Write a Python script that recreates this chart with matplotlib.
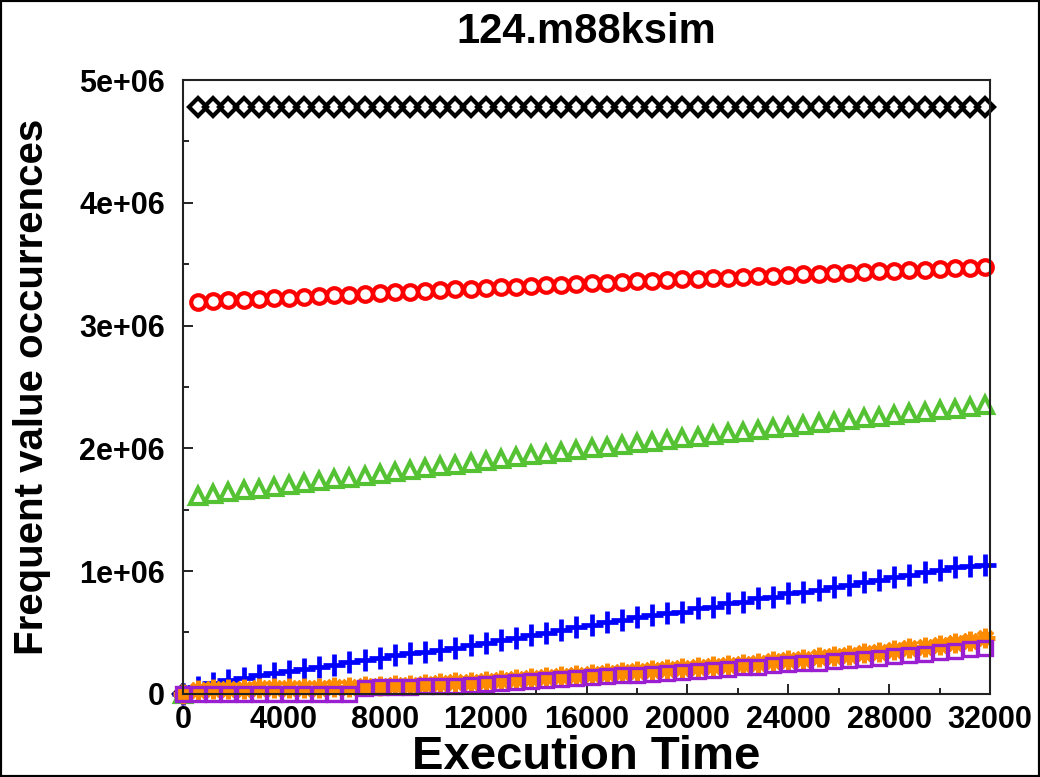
import matplotlib
matplotlib.use("Agg")
import matplotlib.pyplot as plt
import numpy as np
from matplotlib.ticker import MultipleLocator, FuncFormatter
from matplotlib.patches import Rectangle

# sample times (one sample every 600 time units)
time = [0, 600, 1200, 1800, 2400, 3000, 3600, 4200, 4800, 5400,
        6000, 6600, 7200, 7800, 8400, 9000, 9600, 10200, 10800, 11400,
        12000, 12600, 13200, 13800, 14400, 15000, 15600, 16200, 16800, 17400,
        18000, 18600, 19200, 19800, 20400, 21000, 21600, 22200, 22800, 23400,
        24000, 24600, 25200, 25800, 26400, 27000, 27600, 28200, 28800, 29400,
        30000, 30600, 31200, 31800]

# occurrences, in millions
black = [0.0,
         4.78, 4.78, 4.78, 4.78, 4.78, 4.78, 4.78, 4.78, 4.78, 4.78,
         4.78, 4.78, 4.78, 4.78, 4.78, 4.78, 4.78, 4.78, 4.78, 4.78,
         4.78, 4.78, 4.78, 4.78, 4.78, 4.78, 4.78, 4.78, 4.78, 4.78,
         4.78, 4.78, 4.78, 4.78, 4.78, 4.78, 4.78, 4.78, 4.78, 4.78,
         4.78, 4.78, 4.78, 4.78, 4.78, 4.78, 4.78, 4.78, 4.78, 4.78,
         4.78, 4.78, 4.78]
red = [0.0,
       3.195, 3.200, 3.205, 3.210, 3.216, 3.222, 3.228, 3.234, 3.240, 3.246,
       3.252, 3.258, 3.264, 3.270, 3.276, 3.282, 3.288, 3.294, 3.300, 3.305,
       3.311, 3.317, 3.323, 3.328, 3.334, 3.340, 3.345, 3.350, 3.356, 3.361,
       3.366, 3.371, 3.376, 3.381, 3.386, 3.391, 3.396, 3.401, 3.406, 3.411,
       3.416, 3.421, 3.426, 3.431, 3.436, 3.441, 3.446, 3.451, 3.456, 3.461,
       3.466, 3.470, 3.474]
green = [0.0,
         1.612, 1.627, 1.642, 1.657, 1.672, 1.687, 1.702, 1.717, 1.732, 1.747,
         1.762, 1.777, 1.792, 1.807, 1.822, 1.837, 1.852, 1.867, 1.882, 1.897,
         1.912, 1.927, 1.942, 1.957, 1.972, 1.987, 2.000, 2.014, 2.027, 2.041,
         2.054, 2.068, 2.081, 2.095, 2.108, 2.122, 2.135, 2.149, 2.162, 2.176,
         2.189, 2.203, 2.216, 2.230, 2.243, 2.257, 2.270, 2.284, 2.297, 2.311,
         2.324, 2.338, 2.351]
blue = [0.0,
        0.057, 0.090, 0.110, 0.130, 0.155, 0.170, 0.185, 0.200, 0.220, 0.235,
        0.258, 0.275, 0.290, 0.315, 0.332, 0.345, 0.358, 0.375, 0.398, 0.415,
        0.440, 0.456, 0.480, 0.497, 0.520, 0.545, 0.562, 0.586, 0.603, 0.627,
        0.643, 0.660, 0.668, 0.700, 0.708, 0.741, 0.749, 0.780, 0.790, 0.822,
        0.830, 0.847, 0.871, 0.888, 0.912, 0.928, 0.953, 0.969, 0.993, 1.010,
        1.030, 1.040, 1.050]
orange = [0.0,
          0.035, 0.040, 0.040, 0.042, 0.045, 0.045, 0.048, 0.050, 0.050, 0.052,
          0.055, 0.060, 0.065, 0.070, 0.075, 0.080, 0.090, 0.095, 0.100, 0.108,
          0.115, 0.122, 0.130, 0.138, 0.145, 0.152, 0.160, 0.168, 0.176, 0.184,
          0.192, 0.200, 0.208, 0.216, 0.225, 0.235, 0.245, 0.255, 0.265, 0.275,
          0.285, 0.300, 0.310, 0.320, 0.332, 0.345, 0.360, 0.372, 0.385, 0.400,
          0.415, 0.430, 0.455]
purple = [0.0,
          0.0, 0.0, 0.0, 0.0, 0.0, 0.0, 0.0, 0.0, 0.0, 0.0,
          0.0, 0.050, 0.052, 0.055, 0.058, 0.060, 0.062, 0.068, 0.075, 0.082,
          0.090, 0.097, 0.105, 0.110, 0.120, 0.127, 0.135, 0.142, 0.150, 0.157,
          0.165, 0.172, 0.180, 0.187, 0.195, 0.205, 0.215, 0.222, 0.232, 0.240,
          0.250, 0.255, 0.265, 0.275, 0.285, 0.295, 0.305, 0.315, 0.325, 0.338,
          0.350, 0.362, 0.375]

plt.rcParams["font.family"] = ["Liberation Sans", "DejaVu Sans"]
plt.rcParams["font.weight"] = "bold"

fig = plt.figure(figsize=(10.4, 7.77), dpi=100)
ax = fig.add_axes([0.176, 0.107, 0.776, 0.790])

t = np.array(time)
# (values, color, marker, size, edge width)
styles = [
    (black, "black", "D", 9.5, 3.0),
    (red, "#ff0000", "o", 10.5, 3.0),
    (green, "#55c234", "^", 12, 3.0),
    (blue, "#0000ff", "+", 16, 3.4),
    (orange, "#ff8c00", (8, 2, 0), 14, 3.6),
    (purple, "#9a1fd0", "s", 9.5, 2.4),
]
for vals, col, mk, ms, mew in styles:
    ax.plot(t, np.array(vals) * 1e6, linestyle="none", marker=mk, markersize=ms,
            markeredgewidth=mew, markeredgecolor=col, markerfacecolor="none",
            clip_on=False)

ax.set_xlim(0, 32000)
ax.set_ylim(0, 5e6)
ax.xaxis.set_major_locator(MultipleLocator(4000))
ax.xaxis.set_minor_locator(MultipleLocator(2000))
ax.yaxis.set_major_locator(MultipleLocator(1e6))
ax.yaxis.set_minor_locator(MultipleLocator(5e5))
ax.yaxis.set_major_formatter(FuncFormatter(lambda v, p: "0" if v == 0 else f"{v:.0e}"))
ax.tick_params(which="both", direction="in", top=False, right=False, width=1.2,
               labelsize=22)
ax.tick_params(which="major", length=7)
ax.tick_params(which="minor", length=4)
ax.tick_params(axis="y", which="major", pad=13)
ax.tick_params(axis="x", which="major", pad=8)
for s in ax.spines.values():
    s.set_linewidth(1.5)
    s.set_color("#222222")

ax.set_title("124.m88ksim", fontsize=30, fontweight="bold", pad=27)
ax.set_xlabel("Execution Time", fontsize=34, fontweight="bold", labelpad=0)
ax.set_ylabel("Frequent value occurrences", fontsize=29, fontweight="bold", labelpad=20)

fig.patches.append(Rectangle((0, 0), 1, 1, transform=fig.transFigure, fill=False,
                             edgecolor="black", linewidth=3))

fig.savefig("out.png", dpi=100)
